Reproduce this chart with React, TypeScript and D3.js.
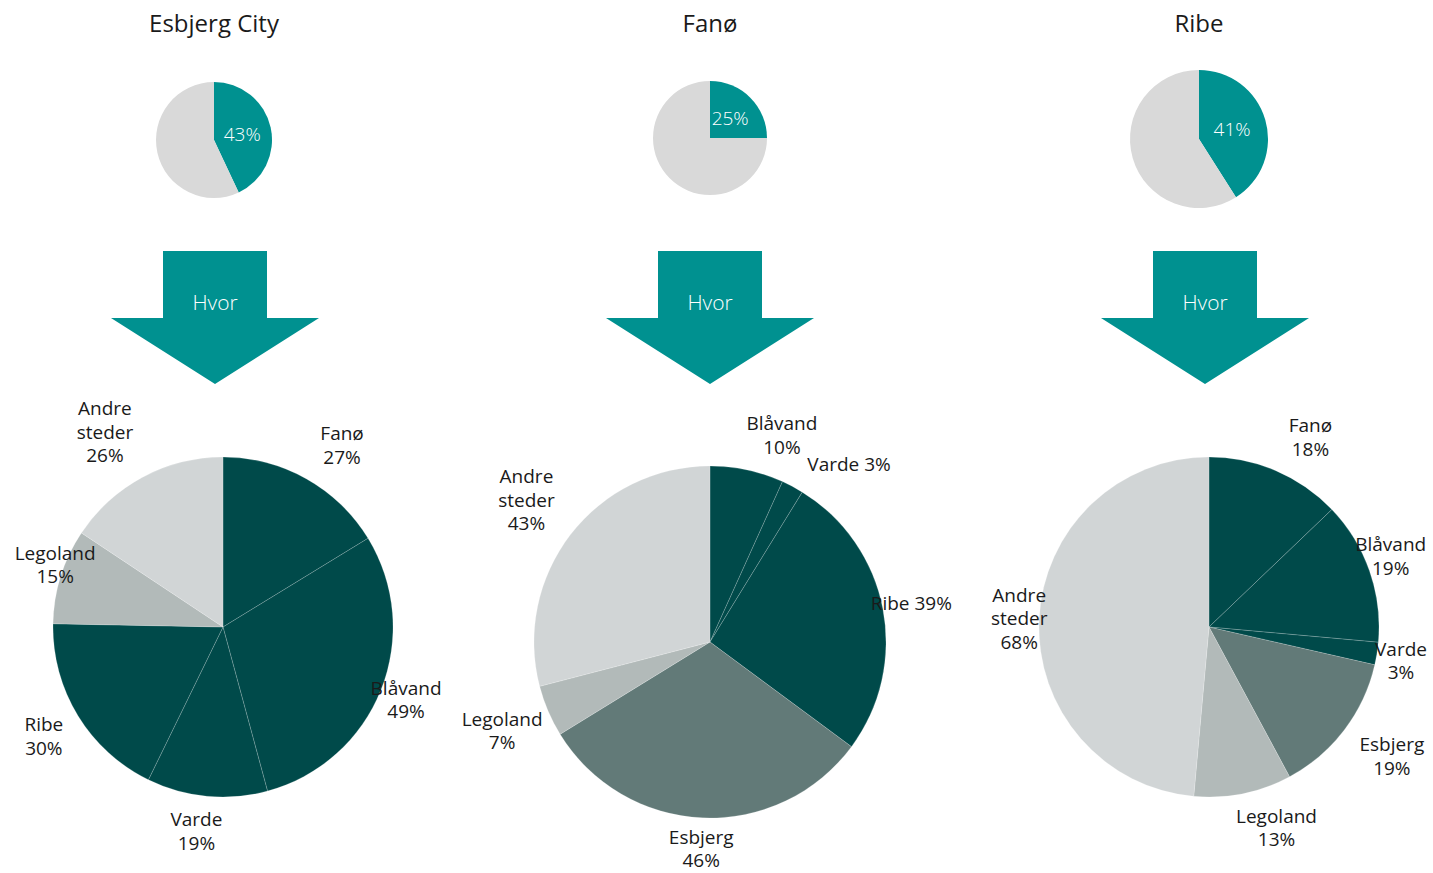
import React from "react";
import * as d3 from "d3";

// ---- data ----
const CITIES = ["Esbjerg City", "Fanø", "Ribe"];
const VISIT_SHARE = [43, 25, 41];

const ESBJERG_LABELS = ["Fanø", "Blåvand", "Varde", "Ribe", "Legoland", "Andre steder"];
const ESBJERG_VALUES = [27, 49, 19, 30, 15, 26];

const FANO_LABELS = ["Blåvand", "Varde", "Ribe", "Esbjerg", "Legoland", "Andre steder"];
const FANO_VALUES = [10, 3, 39, 46, 7, 43];

const RIBE_LABELS = ["Fanø", "Blåvand", "Varde", "Esbjerg", "Legoland", "Andre steder"];
const RIBE_VALUES = [18, 19, 3, 19, 13, 68];

const ARROW_TEXT = "Hvor";

// ---- layout / style ----
const W = 1433;
const H = 873;
const FONT = "'Open Sans', 'Noto Sans', sans-serif";
const TEAL = "#009190";
const DARK = "#004a4a";
const COLOR_BY_LABEL: Record<string, string> = {
  Esbjerg: "#627a78",
  Legoland: "#b2bab9",
  "Andre steder": "#d1d5d6",
};
const colorFor = (l: string) => COLOR_BY_LABEL[l] ?? DARK;

// label placement: radial padding beyond the pie edge and a small angular nudge (degrees)
const COLUMNS = [
  { titleX: 214, smallX: 214, smallY: 140, smallR: 58, arrowX: 215, bigX: 223, bigY: 627, bigR: 170,
    labels: ESBJERG_LABELS, values: ESBJERG_VALUES,
    pads: [47, 27, 36, 40, 9, 58], nudge: [4, 0, 2, 0, 3, -3], inline: [] as string[] },
  { titleX: 710, smallX: 710, smallY: 138, smallR: 57, arrowX: 710, bigX: 710, bigY: 642, bigR: 176,
    labels: FANO_LABELS, values: FANO_VALUES,
    pads: [43, 50, 29, 31, 50, 56], nudge: [7, 10, 0, 0, 0, 0], inline: ["Varde", "Ribe"] },
  { titleX: 1199, smallX: 1199, smallY: 139, smallR: 69, arrowX: 1205, bigX: 1209, bigY: 627, bigR: 170,
    labels: RIBE_LABELS, values: RIBE_VALUES,
    pads: [45, 25, 25, 54, 42, 20], nudge: [5, -2, 1, -2, -7, 0], inline: [] as string[] },
];

const LABEL_SIZE = 19;
const LINE_H = 23.5;

function SmallPie({ cx, cy, r, share }: { cx: number; cy: number; r: number; share: number }) {
  const pie = d3.pie<number>().sort(null).value((d) => d);
  const arcs = pie([share, 100 - share]);
  const arc = d3.arc<d3.PieArcDatum<number>>().innerRadius(0).outerRadius(r);
  const [lx, ly] = arc.centroid(arcs[0]);
  return (
    <g transform={`translate(${cx},${cy})`}>
      {arcs.map((a, i) => (
        <path key={i} d={arc(a) || ""} fill={i === 0 ? TEAL : "#d9d9d9"} />
      ))}
      <text x={lx} y={ly} textAnchor="middle" dominantBaseline="central"
        fill="#fff" fontSize={19} fontFamily={FONT} fontWeight={300}>
        {share}%
      </text>
    </g>
  );
}

function Arrow({ cx }: { cx: number }) {
  const top = 251, shoulder = 318, tip = 384, halfStem = 52, halfHead = 104;
  const pts: [number, number][] = [
    [cx - halfStem, top], [cx + halfStem, top], [cx + halfStem, shoulder],
    [cx + halfHead, shoulder], [cx, tip], [cx - halfHead, shoulder], [cx - halfStem, shoulder],
  ];
  const line = d3.line();
  return (
    <g>
      <path d={(line(pts) || "") + "Z"} fill={TEAL} />
      <text x={cx} y={302} textAnchor="middle" dominantBaseline="central" fill="#fff"
        fontSize={21} fontFamily={FONT} fontWeight={300}>{ARROW_TEXT}</text>
    </g>
  );
}

function BigPie({ col }: { col: (typeof COLUMNS)[number] }) {
  const data = col.labels.map((l, i) => ({ label: l, value: col.values[i] }));
  const pie = d3.pie<{ label: string; value: number }>().sort(null).value((d) => d.value);
  const arcs = pie(data);
  const arc = d3.arc<d3.PieArcDatum<{ label: string; value: number }>>().innerRadius(0).outerRadius(col.bigR);
  return (
    <g transform={`translate(${col.bigX},${col.bigY})`}>
      {arcs.map((a, i) => (
        <path key={i} d={arc(a) || ""} fill={colorFor(a.data.label)}
          stroke="rgba(255,255,255,0.3)" strokeWidth={0.6} />
      ))}
      {arcs.map((a, i) => {
        const mid = (a.startAngle + a.endAngle) / 2 + (col.nudge[i] * Math.PI) / 180;
        const dist = col.bigR + col.pads[i];
        const x = Math.sin(mid) * dist;
        const y = -Math.cos(mid) * dist;
        const pct = `${a.data.value}%`;
        let lines: string[];
        if (col.inline.includes(a.data.label)) lines = [`${a.data.label} ${pct}`];
        else lines = [...a.data.label.split(" "), pct];
        const y0 = y - ((lines.length - 1) * LINE_H) / 2;
        return (
          <text key={"l" + i} textAnchor="middle" fontSize={LABEL_SIZE} fontFamily={FONT}
            fill="#1a1a1a" fontWeight={400}>
            {lines.map((t, j) => (
              <tspan key={j} x={x} y={y0 + j * LINE_H} dy="0.35em">{t}</tspan>
            ))}
          </text>
        );
      })}
    </g>
  );
}

export default function App() {
  return (
    <svg width={W} height={H} style={{ position: "absolute", left: 0, top: 0, background: "#fff" }}>
      {COLUMNS.map((col, i) => (
        <g key={i}>
          <text x={col.titleX} y={22} textAnchor="middle" dominantBaseline="central"
            fontSize={24} fontFamily={FONT} fill="#1a1a1a">{CITIES[i]}</text>
          <SmallPie cx={col.smallX} cy={col.smallY} r={col.smallR} share={VISIT_SHARE[i]} />
          <Arrow cx={col.arrowX} />
          <BigPie col={col} />
        </g>
      ))}
    </svg>
  );
}
